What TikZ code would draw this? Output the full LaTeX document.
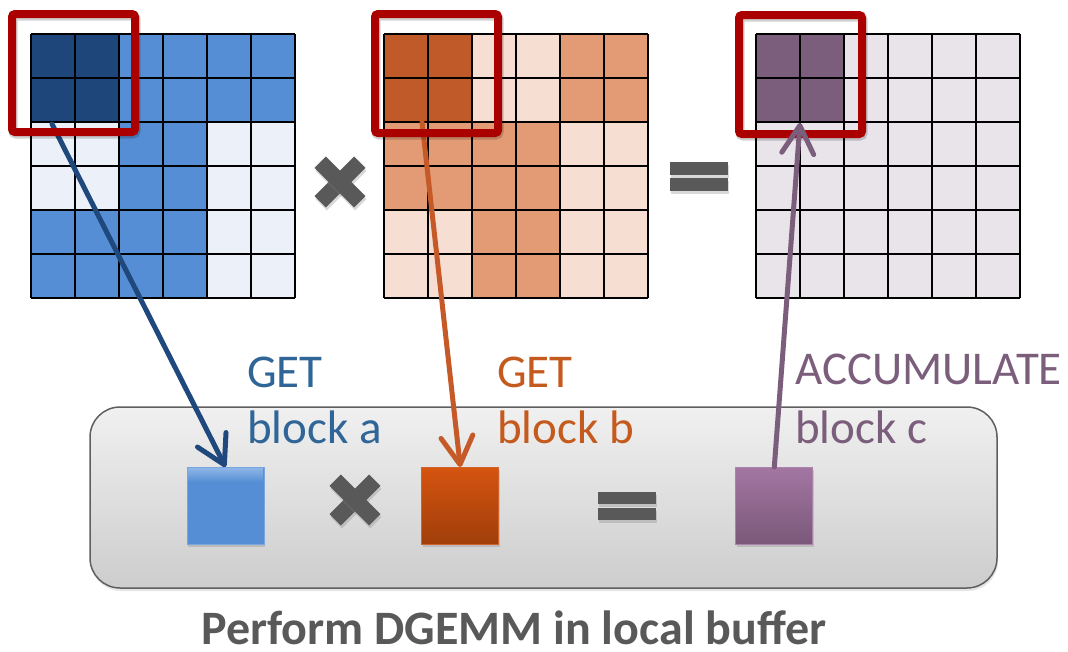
\documentclass[tikz,border=0pt]{standalone}
\usepackage{fontspec}
\setmainfont{Carlito}
\usetikzlibrary{arrows.meta,shadows}
\definecolor{bluedark}{RGB}{31,70,122}
\definecolor{bluemid}{RGB}{85,142,213}
\definecolor{bluelight}{RGB}{236,241,249}
\definecolor{orgdark}{RGB}{192,90,40}
\definecolor{orgmid}{RGB}{226,155,117}
\definecolor{orglight}{RGB}{246,222,211}
\definecolor{purdark}{RGB}{123,93,124}
\definecolor{purlight}{RGB}{232,228,234}
\definecolor{redbox}{RGB}{170,0,0}
\definecolor{symgray}{RGB}{89,89,89}
\definecolor{txtblue}{RGB}{47,101,151}
\definecolor{txtorg}{RGB}{197,90,30}
\definecolor{arrblue}{RGB}{31,72,125}
\definecolor{arrorg}{RGB}{197,90,40}
\begin{document}
\begin{tikzpicture}[x=1pt,y=-1pt,
  gridline/.style={black,line width=2.8pt},
  redframe/.style={draw=redbox,line width=8pt,rounded corners=3pt,inner sep=0pt},
  frameshadow/.style={draw=black,draw opacity=0.18,line width=9pt,rounded corners=3pt},
  smallsq/.style={minimum width=77pt,minimum height=77pt,inner sep=0pt,line width=1pt,
    drop shadow={opacity=0.3,shadow xshift=1pt,shadow yshift=-2pt}},
  getarrow/.style={line width=5pt,line cap=round,-{Straight Barb[round,length=28pt,width=32pt]}},
  lbl/.style={anchor=base west,inner sep=0pt,font=\fontsize{47}{56}\selectfont},
  symbar/.style={fill=symgray,drop shadow={opacity=0.3,shadow xshift=1pt,shadow yshift=-3pt}}
]
\useasboundingbox (0,0) rectangle (1068,651);

% ---------- matrix A ----------
\fill[bluelight] (31,34) rectangle (295,298);
\fill[bluemid] (119,34) rectangle (295,122);
\fill[bluemid] (119,122) rectangle (207,210);
\fill[bluemid] (31,210) rectangle (207,298);
\fill[bluedark] (31,34) rectangle (119,122);
\foreach \i in {0,...,6}{
  \draw[gridline] (31+\i*44,34) -- (31+\i*44,298);
  \draw[gridline] (31,34+\i*44) -- (295,34+\i*44);
}
% ---------- matrix B ----------
\fill[orglight] (384,34) rectangle (648,298);
\fill[orgmid] (560,34) rectangle (648,122);
\fill[orgmid] (384,122) rectangle (560,210);
\fill[orgmid] (472,210) rectangle (560,298);
\fill[orgdark] (384,34) rectangle (472,122);
\foreach \i in {0,...,6}{
  \draw[gridline] (384+\i*44,34) -- (384+\i*44,298);
  \draw[gridline] (384,34+\i*44) -- (648,34+\i*44);
}
% ---------- matrix C ----------
\fill[purlight] (756,34) rectangle (1020,298);
\fill[purdark] (756,34) rectangle (844,122);
\foreach \i in {0,...,6}{
  \draw[gridline] (756+\i*44,34) -- (756+\i*44,298);
  \draw[gridline] (756,34+\i*44) -- (1020,34+\i*44);
}

% ---------- operator symbols (top) ----------
\begin{scope}[shift={(340,182)}]
  \fill[symbar,rotate=45] (-28,-8) rectangle (28,8);
  \fill[symbar,rotate=-45] (-28,-8) rectangle (28,8);
\end{scope}
\fill[symbar] (670,162) rectangle (728,175);
\fill[symbar] (670,178) rectangle (728,191);

% ---------- local buffer ----------
\node[draw={rgb,255:red,95;green,95;blue,95},line width=1.5pt,rounded corners=30pt,
  top color={rgb,255:red,240;green,240;blue,240},bottom color={rgb,255:red,205;green,205;blue,205},
  minimum width=907pt,minimum height=181pt,inner sep=0pt,
  drop shadow={opacity=0.2,shadow xshift=1pt,shadow yshift=-3pt}] (buf) at (543.5,497.5) {};

\node[smallsq,draw={rgb,255:red,120;green,165;blue,222},fill=bluemid] (sa) at (225.5,506) {};
\fill[top color={rgb,255:red,140;green,180;blue,230},bottom color=bluemid] (188,468.5) rectangle (263,482);
\node[smallsq,draw={rgb,255:red,205;green,100;blue,45},top color={rgb,255:red,213;green,84;blue,16},bottom color={rgb,255:red,160;green,62;blue,10}] (sb) at (460.3,506) {};
\node[smallsq,draw={rgb,255:red,170;green,130;blue,170},top color={rgb,255:red,163;green,118;blue,162},bottom color={rgb,255:red,122;green,88;blue,122}] (sc) at (774.3,506) {};

\begin{scope}[shift={(355,500)}]
  \fill[symbar,rotate=45] (-28,-8) rectangle (28,8);
  \fill[symbar,rotate=-45] (-28,-8) rectangle (28,8);
\end{scope}
\fill[symbar] (598,492) rectangle (656,504);
\fill[symbar] (598,508) rectangle (656,520);

% ---------- connectors ----------
\coordinate (aSrc) at (52,124);
\coordinate (bSrc) at (422,122);
\coordinate (cTip) at (800,123);
\draw[getarrow,arrblue] (aSrc) -- (sa.north);
\draw[getarrow,arrorg] (bSrc) -- (sb.north);

% ---------- red frames ----------
\draw[frameshadow] (13,16) rectangle (136,134);
\draw[frameshadow] (376,16) rectangle (499,135);
\draw[frameshadow] (740,17) rectangle (863,136);
\node[redframe,minimum width=123pt,minimum height=118pt] (ra) at (73.5,73) {};
\node[redframe,minimum width=123pt,minimum height=119pt] (rb) at (436.5,73.5) {};
\node[redframe,minimum width=123pt,minimum height=119pt] (rc) at (800.5,74.5) {};

\draw[getarrow,purdark] (sc.north) -- (cTip);

% ---------- labels ----------
\node[lbl,text=txtblue] (ga) at (247,387) {GET};
\node[lbl,text=txtblue] (la) at (247,443) {block a};
\node[lbl,text=txtorg] (gb) at (497,387) {GET};
\node[lbl,text=txtorg] (lb) at (497,443) {block b};
\node[lbl,text=purdark] (gc) at (795,384) {ACCUMULATE};
\node[lbl,text=purdark] (lc) at (795,443) {block c};

\node[anchor=base,inner sep=0pt,text=symgray,font=\bfseries\fontsize{48}{56}\selectfont] (title) at (514,644) {Perform DGEMM in local buffer};
\end{tikzpicture}
\end{document}
